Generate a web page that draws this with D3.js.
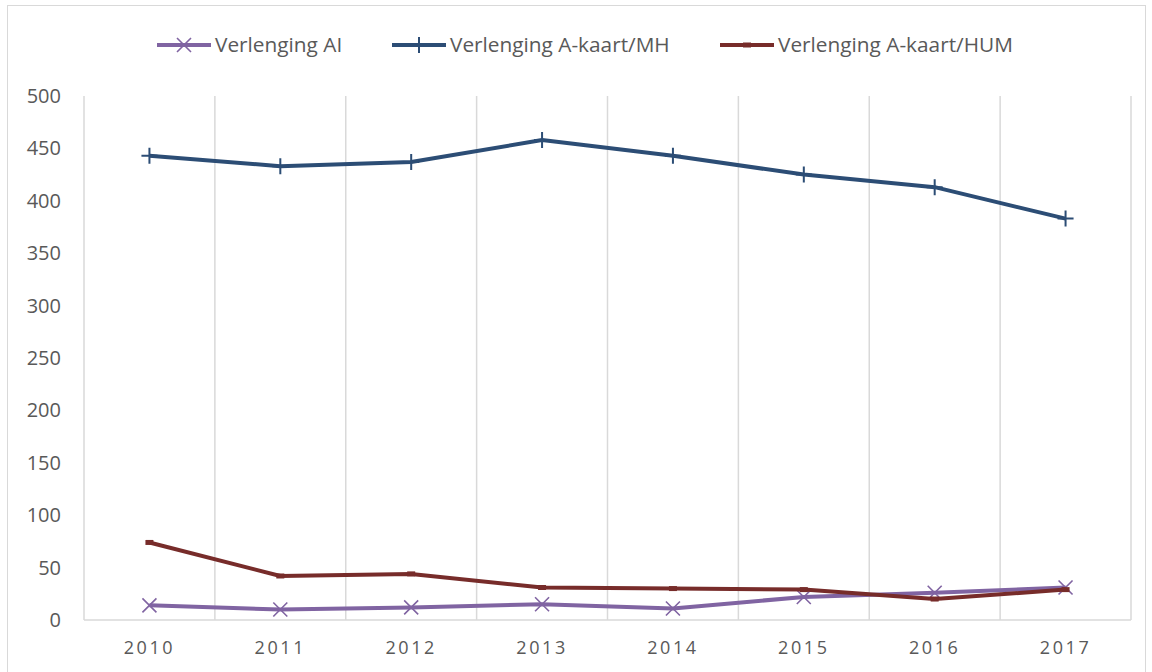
<!DOCTYPE html>
<html>
<head>
<meta charset="utf-8">
<script src="https://cdn.jsdelivr.net/npm/d3@7"></script>
<style>
  body { margin: 0; background: #fff; }
  text { font-family: "Open Sans", sans-serif; fill: #595959; }
</style>
</head>
<body>
<script>
var svgWidth = 1152;
var svgHeight = 672;

// data
var years = ["2010", "2011", "2012", "2013", "2014", "2015", "2016", "2017"];
var verlengingAI = [14, 10, 12, 15, 11, 22, 26, 31];
var verlengingMH = [443, 433, 437, 458, 443, 425, 413, 383];
var verlengingHUM = [74, 42, 44, 31, 30, 29, 20, 29];
var yTicks = [0, 50, 100, 150, 200, 250, 300, 350, 400, 450, 500];

var seriesNames = ["Verlenging AI", "Verlenging A-kaart/MH", "Verlenging A-kaart/HUM"];
var seriesColors = ["#8064a2", "#2c4d75", "#772c2a"];
var seriesMarkers = ["x", "plus", "dash"];

var margin = { top: 96, right: 21, bottom: 52, left: 84 };

var svg = d3.select("body").append("svg")
  .attr("width", svgWidth)
  .attr("height", svgHeight);

// chart border
svg.append("rect")
  .attr("x", 7.5).attr("y", 5.5)
  .attr("width", 1138).attr("height", 680)
  .attr("fill", "none")
  .attr("stroke", "#d9d9d9")
  .attr("stroke-width", 1);

var x = d3.scaleBand()
  .domain(years)
  .range([margin.left, svgWidth - margin.right]);
var y = d3.scaleLinear()
  .domain([0, 500])
  .range([svgHeight - margin.bottom, margin.top]);

var cx = function(d, i) { return x(years[i]) + x.bandwidth() / 2; };

// vertical gridlines at the category boundaries
var bounds = years.map(function(d) { return x(d); }).concat([x.range()[1]]);
svg.append("g").selectAll("line")
  .data(bounds)
  .enter().append("line")
  .attr("x1", function(d) { return d; })
  .attr("x2", function(d) { return d; })
  .attr("y1", y(500))
  .attr("y2", y(0))
  .attr("stroke", "#d9d9d9")
  .attr("stroke-width", 1.5);

// bottom axis line
svg.append("line")
  .attr("x1", x.range()[0]).attr("x2", x.range()[1])
  .attr("y1", y(0)).attr("y2", y(0))
  .attr("stroke", "#d9d9d9")
  .attr("stroke-width", 1.5);

var yaxis = d3.axisLeft(y).tickValues(yTicks).tickSize(0).tickPadding(23);
var gy = svg.append("g")
  .attr("transform", "translate(" + margin.left + ",0)")
  .call(yaxis);
gy.select(".domain").remove();
gy.selectAll("text").attr("font-size", "20px").style("font-family", "Open Sans");

var xaxis = d3.axisBottom(x).tickSize(0).tickPadding(21);
var gx = svg.append("g")
  .attr("transform", "translate(0," + y(0) + ")")
  .call(xaxis);
gx.select(".domain").remove();
gx.selectAll("text")
  .attr("font-size", "18px")
  .attr("letter-spacing", "2.6px")
  .style("font-family", "Open Sans");

function drawMarker(g, type, color) {
  if (type === "x") {
    g.append("path").attr("d", "M-7,-7L7,7M-7,7L7,-7")
      .attr("stroke", color).attr("stroke-width", 1.6).attr("fill", "none");
  } else if (type === "plus") {
    g.append("path").attr("d", "M-8,0L8,0M0,-8L0,8")
      .attr("stroke", color).attr("stroke-width", 2).attr("fill", "none");
  } else {
    g.append("path").attr("d", "M-4,0L4,0")
      .attr("stroke", color).attr("stroke-width", 5).attr("fill", "none");
  }
}

var allSeries = [verlengingAI, verlengingMH, verlengingHUM];
var line = d3.line()
  .x(function(d, i) { return cx(d, i); })
  .y(function(d) { return y(d); });

allSeries.forEach(function(vals, s) {
  svg.append("path")
    .datum(vals)
    .attr("d", line)
    .attr("fill", "none")
    .attr("stroke", seriesColors[s])
    .attr("stroke-width", 4)
    .attr("stroke-linejoin", "round");
  vals.forEach(function(v, i) {
    var g = svg.append("g").attr("transform", "translate(" + cx(v, i) + "," + y(v) + ")");
    drawMarker(g, seriesMarkers[s], seriesColors[s]);
  });
});

// legend
var legendX = [157, 392, 720];
seriesNames.forEach(function(name, s) {
  var lg = svg.append("g").attr("transform", "translate(" + legendX[s] + ",45)");
  lg.append("line")
    .attr("x1", 0).attr("x2", 54).attr("y1", 0).attr("y2", 0)
    .attr("stroke", seriesColors[s]).attr("stroke-width", 4);
  drawMarker(lg.append("g").attr("transform", "translate(27,0)"), seriesMarkers[s], seriesColors[s]);
  lg.append("text")
    .attr("x", 58).attr("y", 0).attr("dy", "0.35em")
    .attr("font-size", "20.8px")
    .text(name);
});
</script>
</body>
</html>
